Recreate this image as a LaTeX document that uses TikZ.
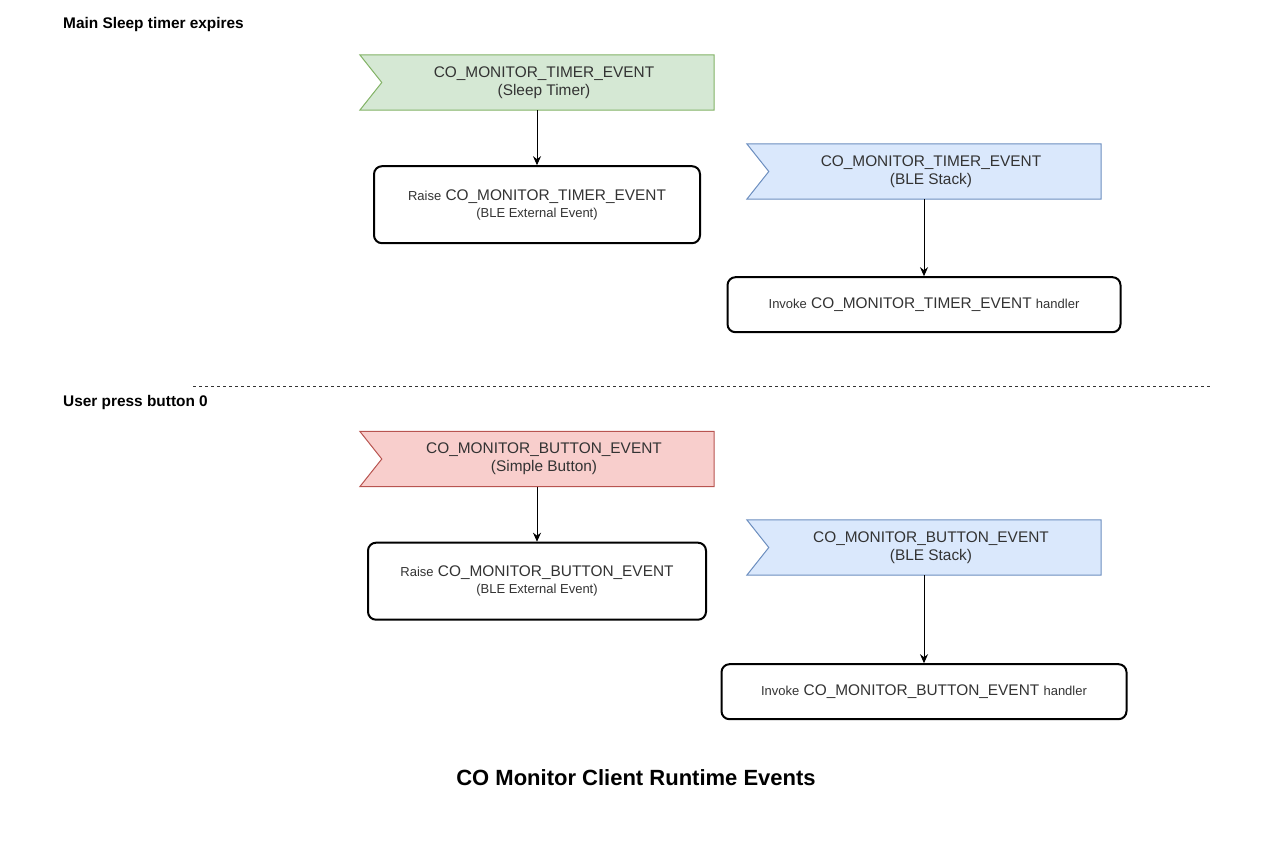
\documentclass[tikz,border=0pt]{standalone}
\usepackage{fontspec}
\setmainfont{Liberation Sans}
\usetikzlibrary{arrows.meta, positioning, calc, backgrounds}
\definecolor{timerfill}{HTML}{D5E8D4}
\definecolor{timerline}{HTML}{82B366}
\definecolor{blefill}{HTML}{DAE8FC}
\definecolor{bleline}{HTML}{6C8EBF}
\definecolor{buttonfill}{HTML}{F8CECC}
\definecolor{buttonline}{HTML}{B85450}
\definecolor{textgrey}{HTML}{333333}
\newcommand{\bigtxt}{\fontsize{15.4}{18}\selectfont}
\newcommand{\smalltxt}{\fontsize{13}{16}\selectfont}
% two-line flag text, pushed right past the notch
\newcommand{\flagtext}[2]{\hspace*{14pt}\begin{tabular}{@{}c@{}}#1\\#2\end{tabular}}
\tikzset{
  flag/.style={minimum width=354pt, minimum height=55pt, inner sep=0pt,
    text=textgrey, font=\bigtxt},
  action/.style={draw, line width=2pt, rounded corners=8pt, fill=white, inner sep=0pt,
    align=center, text=textgrey, font=\bigtxt},
  arr/.style={-{Stealth[length=9pt, width=8pt]}, line width=1pt},
  heading/.style={anchor=west, inner sep=0pt, font=\bigtxt\bfseries},
}
% flag outline with notch on the west side
\newcommand{\flagshape}[3]{%
  \begin{scope}[on background layer]
    \draw[draw=#2, fill=#3, line width=1pt] (#1.north west) -- (#1.north east)
      -- (#1.south east) -- (#1.south west) -- ($(#1.west)+(22pt,0)$) -- cycle;
  \end{scope}}

\begin{document}
\begin{tikzpicture}[x=1pt, y=-1pt]
  \useasboundingbox (0,0) rectangle (1279,855);

  % sleep timer
  \node[heading] (timerhead) at (63,25) {Main Sleep timer expires};
  \node[flag] (timerflag) at (537,82.5) {\flagtext{CO\_MONITOR\_TIMER\_EVENT}{(Sleep Timer)}};
  \flagshape{timerflag}{timerline}{timerfill}
  \node[action, minimum width=326pt, minimum height=77pt, below=55pt of timerflag] (timerraise)
    {{\smalltxt Raise} CO\_MONITOR\_TIMER\_EVENT\\[-1pt]{\smalltxt (BLE External Event)}};
  \draw[arr] (timerflag) -- (timerraise);

  \node[flag] (timerble) at (924,171.5) {\flagtext{CO\_MONITOR\_TIMER\_EVENT}{(BLE Stack)}};
  \flagshape{timerble}{bleline}{blefill}
  \node[action, minimum width=393pt, minimum height=55pt, below=77pt of timerble] (timerinvoke)
    {{\smalltxt Invoke} CO\_MONITOR\_TIMER\_EVENT {\smalltxt handler}};
  \draw[arr] (timerble) -- (timerinvoke);

  % separator
  \coordinate (sepl) at (193,386);
  \coordinate (sepr) at (1212,386);
  \draw[textgrey, line width=1pt, dash pattern=on 3pt off 3pt] (sepl) -- (sepr);

  % button
  \node[heading] (buttonhead) at (63,403) {User press button 0};
  \node[flag] (buttonflag) at (537,459) {\flagtext{CO\_MONITOR\_BUTTON\_EVENT}{(Simple Button)}};
  \flagshape{buttonflag}{buttonline}{buttonfill}
  \node[action, minimum width=338pt, minimum height=77pt, below=55pt of buttonflag] (buttonraise)
    {{\smalltxt Raise} CO\_MONITOR\_BUTTON\_EVENT\\[-1pt]{\smalltxt (BLE External Event)}};
  \draw[arr] (buttonflag) -- (buttonraise);

  \node[flag] (buttonble) at (924,547.5) {\flagtext{CO\_MONITOR\_BUTTON\_EVENT}{(BLE Stack)}};
  \flagshape{buttonble}{bleline}{blefill}
  \node[action, minimum width=405pt, minimum height=55pt, below=88pt of buttonble] (buttoninvoke)
    {{\smalltxt Invoke} CO\_MONITOR\_BUTTON\_EVENT {\smalltxt handler}};
  \draw[arr] (buttonble) -- (buttoninvoke);

  \node[font=\fontsize{22}{26}\selectfont\bfseries] (title) at (636,778)
    {CO Monitor Client Runtime Events};
\end{tikzpicture}
\end{document}
